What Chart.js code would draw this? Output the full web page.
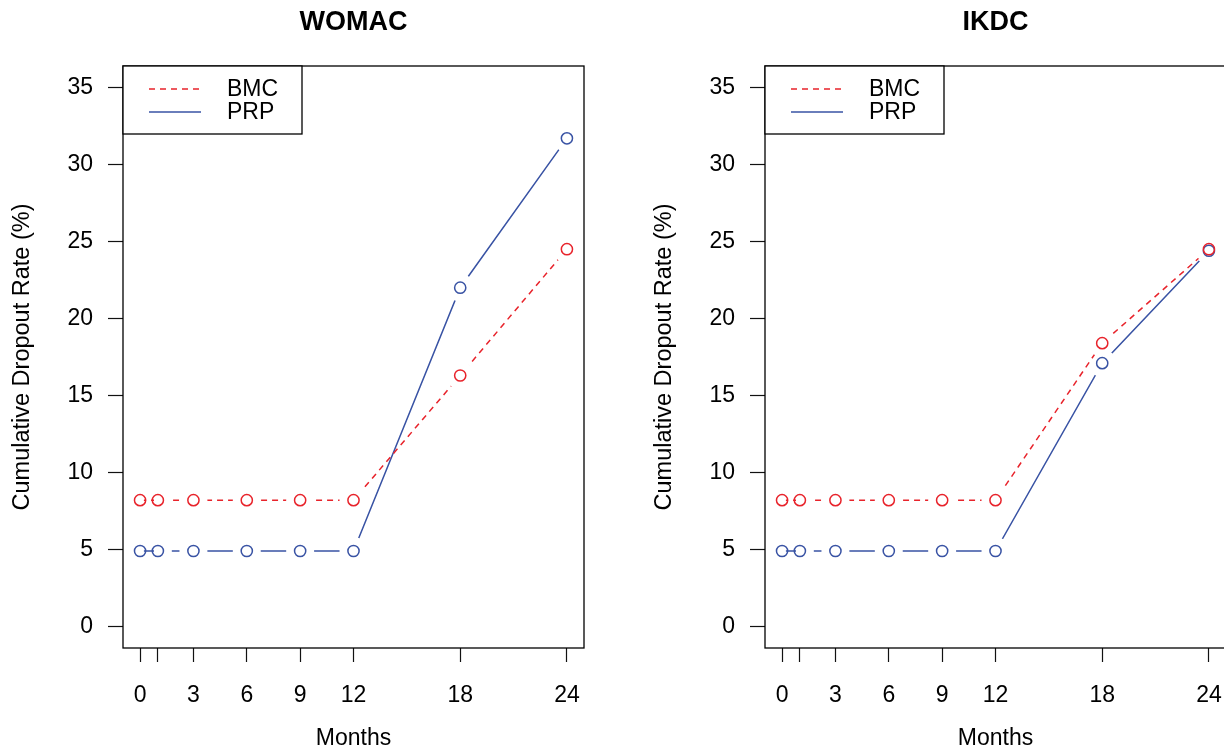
<!DOCTYPE html>
<html>
<head>
<meta charset="utf-8">
<script src="https://cdn.jsdelivr.net/npm/chart.js@4.4.0/dist/chart.umd.min.js"></script>
<style>
    html, body { margin: 0; padding: 0; background: #fff; overflow: hidden; }
    body { width: 1224px; height: 751px; position: relative; }
    .panel { position: absolute; top: 0; width: 642px; height: 751px; }
    #womacPanel { left: 0; }
    #ikdcPanel { left: 642px; }
</style>
</head>
<body>
<div class="panel" id="womacPanel"><canvas id="womacChart" width="642" height="751"></canvas></div>
<div class="panel" id="ikdcPanel"><canvas id="ikdcChart" width="642" height="751"></canvas></div>
<script>
// Follow-up months and axis ticks
const months = [0, 1, 3, 6, 9, 12, 18, 24];
const monthTickLabels = ['0', '', '3', '6', '9', '12', '18', '24'];
const rateTicks = [0, 5, 10, 15, 20, 25, 30, 35];
const seriesNames = ['BMC', 'PRP'];

// WOMAC cumulative dropout rate (%)
const womacBMC = [8.2, 8.2, 8.2, 8.2, 8.2, 8.2, 16.3, 24.5];
const womacPRP = [4.9, 4.9, 4.9, 4.9, 4.9, 4.9, 22.0, 31.7];

// IKDC cumulative dropout rate (%)
const ikdcBMC = [8.2, 8.2, 8.2, 8.2, 8.2, 8.2, 18.4, 24.5];
const ikdcPRP = [4.9, 4.9, 4.9, 4.9, 4.9, 4.9, 17.1, 24.4];

const RED = '#E8232B';
const BLUE = '#3953A4';
const FONT = "'Liberation Sans', Arial, Helvetica, sans-serif";

// Lines stop short of their own points, like R's type = "b"
const pointGaps = {
    id: 'pointGaps',
    beforeDatasetDraw(chart, args) {
        const ds = chart.data.datasets[args.index];
        if (!ds.gap) return;
        const ctx = chart.ctx;
        ctx.save();
        ctx.beginPath();
        ctx.rect(0, 0, chart.width, chart.height);
        args.meta.data.forEach(pt => {
            ctx.moveTo(pt.x + ds.gap, pt.y);
            ctx.arc(pt.x, pt.y, ds.gap, 0, Math.PI * 2);
        });
        ctx.clip('evenodd');
    },
    afterDatasetDraw(chart, args) {
        if (chart.data.datasets[args.index].gap) chart.ctx.restore();
    }
};

// Plot box plus a boxed legend in the top-left corner
const boxAndLegend = {
    id: 'boxAndLegend',
    afterDraw(chart) {
        const ctx = chart.ctx;
        const ca = chart.chartArea;
        ctx.save();
        ctx.strokeStyle = '#000';
        ctx.lineWidth = 1.3;
        ctx.setLineDash([]);
        ctx.strokeRect(ca.left, ca.top, ca.right - ca.left, ca.bottom - ca.top);

        // legend box
        ctx.fillStyle = '#fff';
        ctx.fillRect(ca.left, ca.top, 179, 68);
        ctx.strokeRect(ca.left, ca.top, 179, 68);

        const lines = chart.data.datasets.filter(d => d.gap);
        lines.forEach((d, i) => {
            const y = ca.top + 23 + i * 23;
            ctx.strokeStyle = d.borderColor;
            ctx.lineWidth = d.borderWidth;
            ctx.setLineDash(d.borderDash || []);
            ctx.beginPath();
            ctx.moveTo(ca.left + 26, y);
            ctx.lineTo(ca.left + 78, y);
            ctx.stroke();
            ctx.setLineDash([]);
            ctx.fillStyle = '#000';
            ctx.font = '23px ' + FONT;
            ctx.textBaseline = 'middle';
            ctx.textAlign = 'left';
            ctx.fillText(d.label, ca.left + 104, y + 1);
        });
        ctx.restore();
    }
};

function toPoints(values) {
    return months.map((m, i) => ({ x: m, y: values[i] }));
}

function buildChart(canvasId, title, bmc, prp) {
    const lineSets = [
        { label: seriesNames[0], values: bmc, color: RED, dash: [6, 5] },
        { label: seriesNames[1], values: prp, color: BLUE, dash: [] }
    ];
    const datasets = [];
    lineSets.forEach(s => {
        datasets.push({
            label: s.label,
            data: toPoints(s.values),
            borderColor: s.color,
            borderWidth: 1.5,
            borderDash: s.dash,
            pointRadius: 0,
            fill: false,
            tension: 0,
            gap: 14,
            order: 1
        });
        datasets.push({
            label: s.label,
            data: toPoints(s.values),
            showLine: false,
            pointStyle: 'circle',
            pointRadius: 5.6,
            pointBorderWidth: 1.5,
            pointBorderColor: s.color,
            pointBackgroundColor: 'rgba(0,0,0,0)',
            order: 0
        });
    });

    const tickFont = { family: FONT, size: 23 };

    return new Chart(document.getElementById(canvasId), {
        type: 'line',
        data: { datasets: datasets },
        plugins: [pointGaps, boxAndLegend],
        options: {
            responsive: false,
            animation: false,
            events: [],
            layout: { padding: { left: 0, right: 58, top: 0, bottom: 0 } },
            plugins: {
                legend: { display: false },
                tooltip: { enabled: false },
                title: {
                    display: true,
                    fullSize: false,
                    text: title,
                    color: '#000',
                    font: { family: FONT, size: 27, weight: 'bold', lineHeight: 1.2 },
                    padding: { top: 6, bottom: 27.6 }
                }
            },
            scales: {
                x: {
                    type: 'linear',
                    min: -0.96,
                    max: 24.96,
                    afterBuildTicks: scale => { scale.ticks = months.map(v => ({ value: v })); },
                    afterFit: scale => { scale.height = 103; },
                    border: { display: false },
                    grid: { drawOnChartArea: false, drawTicks: true, tickLength: 14, tickColor: '#111', tickWidth: 1.2 },
                    ticks: {
                        color: '#000',
                        font: tickFont,
                        padding: 20,
                        autoSkip: false,
                        maxRotation: 0,
                        callback: (value, index) => monthTickLabels[index]
                    },
                    title: {
                        display: true,
                        text: 'Months',
                        color: '#000',
                        font: { family: FONT, size: 23, lineHeight: 1.0 },
                        padding: { top: 0, bottom: 1 }
                    }
                },
                y: {
                    type: 'linear',
                    min: -1.4,
                    max: 36.4,
                    afterBuildTicks: scale => { scale.ticks = rateTicks.map(v => ({ value: v })); },
                    afterFit: scale => { scale.width = 123; },
                    border: { display: false },
                    grid: { drawOnChartArea: false, drawTicks: true, tickLength: 15, tickColor: '#111', tickWidth: 1.2 },
                    ticks: {
                        color: '#000',
                        font: tickFont,
                        padding: 15,
                        autoSkip: false,
                        callback: (value, index) => String(rateTicks[index])
                    },
                    title: {
                        display: true,
                        text: 'Cumulative Dropout Rate (%)',
                        color: '#000',
                        font: { family: FONT, size: 23.5, lineHeight: 1.2 },
                        padding: { top: 8, bottom: 0 }
                    }
                }
            }
        }
    });
}

buildChart('womacChart', 'WOMAC', womacBMC, womacPRP);
buildChart('ikdcChart', 'IKDC', ikdcBMC, ikdcPRP);
</script>
</body>
</html>
